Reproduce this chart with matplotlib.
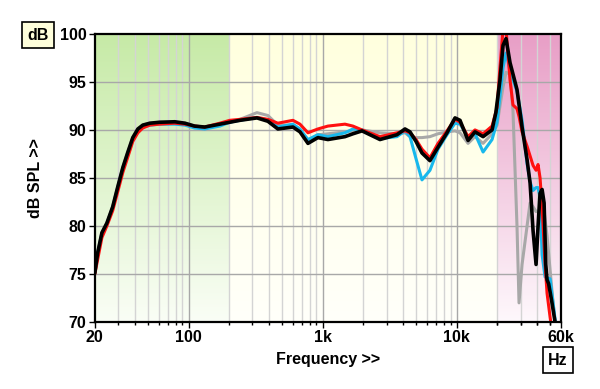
import numpy as np
import matplotlib.pyplot as plt
from matplotlib.ticker import FixedLocator, NullFormatter

plt.rcParams['font.family'] = ['Liberation Sans', 'DejaVu Sans']

# ===============================
# Data
# ===============================
freq_lo = [20, 21, 22.6, 24.6, 27.2, 29.7, 32.4, 35.3, 38.4, 41.9, 45.6, 51.5, 61, 79,
           94, 111, 132, 171, 203, 242, 324, 391, 464, 601, 678, 778, 922, 1096,
           1468, 1684, 1968, 2680, 3588, 4116, 4486, 4976, 5512, 6320, 7260, 8470,
           9720, 10590, 12160, 13700, 15740, 18360]

black_lo = [75.1, 77.2, 79.3, 80.3, 82.0, 84.1, 86.1, 87.7, 89.2, 90.1, 90.5, 90.7, 90.8, 90.85,
            90.7, 90.4, 90.3, 90.6, 90.8, 91.0, 91.25, 90.9, 90.1, 90.3, 89.8, 88.6, 89.2, 89.0,
            89.3, 89.6, 89.9, 89.0, 89.5, 90.1, 89.8, 88.8, 87.6, 86.8, 88.2, 89.7,
            91.25, 91.0, 88.9, 89.8, 89.3, 90.0]
red_lo = [75.0, 76.5, 78.8, 80.0, 81.6, 83.6, 85.6, 87.2, 88.8, 89.7, 90.2, 90.5, 90.6, 90.7,
          90.6, 90.4, 90.3, 90.7, 91.0, 91.1, 91.3, 91.1, 90.7, 91.0, 90.6, 89.7, 90.1, 90.4,
          90.6, 90.4, 90.0, 89.3, 89.7, 89.9, 89.7, 89.0, 88.0, 87.1, 88.6, 89.9,
          91.1, 90.8, 89.3, 90.0, 89.6, 90.4]
cyan_lo = [75.2, 77.1, 79.2, 80.2, 81.9, 84.0, 86.0, 87.5, 89.0, 89.9, 90.3, 90.5, 90.6, 90.6,
           90.5, 90.2, 90.1, 90.4, 90.8, 91.0, 91.3, 91.0, 90.3, 90.6, 90.1, 89.0, 89.5, 89.3,
           89.7, 90.1, 90.0, 89.1, 89.3, 89.9, 89.3, 87.0, 84.8, 85.8, 88.0, 89.5,
           90.7, 90.6, 89.3, 89.6, 87.7, 89.0]
gray_lo = [75.1, 77.2, 79.3, 80.3, 82.0, 84.1, 86.1, 87.7, 89.2, 90.0, 90.5, 90.7, 90.8, 90.8,
           90.7, 90.4, 90.3, 90.6, 90.8, 91.1, 91.8, 91.5, 90.5, 90.5, 90.0, 88.9, 89.5, 89.6,
           89.8, 89.9, 90.0, 89.7, 89.6, 89.7, 89.3, 89.2, 89.2, 89.3, 89.6, 89.8,
           89.9, 89.7, 88.6, 89.3, 88.6, 89.6]

# high-frequency tails, one per curve
black_hf_f = [19600, 21040, 22180, 23340, 25000, 28180, 30740, 33500, 35270, 37140, 39100,
              40460, 41880, 43360, 44880, 46200, 47220, 48500, 51000, 54200, 56000]
black_hf_db = [91.8, 95.2, 98.8, 99.5, 97.0, 94.2, 90.3, 86.9, 84.5, 79.5, 76.0,
               80.0, 83.4, 83.8, 82.4, 76.0, 74.4, 74.0, 72.3, 70.0, 68.5]

red_hf_f = [20000, 21040, 22180, 23340, 25000, 26300, 28180, 29180, 30740, 33500, 35270,
            37140, 39100, 40460, 41880, 43360, 45620, 47220, 49760, 51500]
red_hf_db = [92.3, 96.5, 100.5, 100.5, 95.2, 92.6, 92.2, 91.4, 89.8, 88.3, 87.3,
             86.3, 85.8, 86.4, 85.0, 82.0, 76.1, 73.0, 70.5, 69.0]

cyan_hf_f = [20000, 21040, 22180, 23340, 25000, 28180, 30740, 33500, 35270, 37140, 39100,
             40460, 41880, 43360, 45620, 49760, 52360, 55100]
cyan_hf_db = [90.8, 93.5, 96.5, 98.0, 96.2, 94.0, 91.0, 86.5, 84.6, 83.7, 84.0,
              84.0, 83.0, 77.0, 74.7, 74.5, 72.0, 69.5]

gray_hf_f = [20000, 21040, 22180, 23340, 25000, 26300, 28180, 29180, 30740, 33500, 35270,
             37140, 39100, 41880, 44880, 47220, 49760, 52360, 54200]
gray_hf_db = [90.5, 92.5, 94.5, 96.0, 95.8, 92.0, 80.0, 72.0, 76.0, 80.0, 82.4,
              82.0, 81.5, 81.6, 81.5, 79.0, 75.4, 72.0, 70.0]

x_ticks = [20, 100, 1000, 10000, 60000]
x_labels = ['20', '100', '1k', '10k', '60k']
y_ticks = [70, 75, 80, 85, 90, 95, 100]

# ===============================
# Figure
# ===============================
fig = plt.figure(figsize=(6, 3.89), dpi=100)
ax = fig.add_axes([0.158, 0.172, 0.777, 0.741])
ax.set_xscale('log')
ax.set_xlim(20, 60000)
ax.set_ylim(70, 100)

# background bands with vertical fade to white
span = np.log10(60000 / 20)
b1 = np.log10(200 / 20) / span
b2 = np.log10(20000 / 20) / span
nx, ny = 1200, 300
xs = np.linspace(0, 1, nx)
ys = np.linspace(0, 1, ny)[:, None]  # 0 bottom, 1 top
top = np.zeros((nx, 3))
bot = np.zeros((nx, 3))
green_t, green_b = np.array([198, 234, 166]), np.array([250, 254, 246])
yel_t, yel_b = np.array([255, 255, 222]), np.array([255, 255, 250])
pink_t, pink_b = np.array([232, 158, 198]), np.array([254, 248, 252])
top[xs < b1] = green_t
bot[xs < b1] = green_b
m = (xs >= b1) & (xs < b2)
top[m] = yel_t
bot[m] = yel_b
top[xs >= b2] = pink_t
bot[xs >= b2] = pink_b
img = (bot[None, :, :] + (top - bot)[None, :, :] * ys[:, :, None]) / 255.0
ax.imshow(img, extent=[0, 1, 0, 1], transform=ax.transAxes, aspect='auto',
          origin='lower', zorder=0, interpolation='bilinear')

# grid
minor = [m_ * 10 ** d for d in range(1, 5) for m_ in range(2, 10)]
minor = [v for v in minor if 20 < v < 60000 and v not in (100, 1000, 10000)]
for v in minor:
    ax.axvline(v, color='#d4d4d4', lw=1.0, zorder=1)
for v in (100, 1000, 10000):
    ax.axvline(v, color='#a8a8a8', lw=1.0, zorder=1)
for v in y_ticks[1:-1]:
    ax.axhline(v, color='#a8a8a8', lw=1.0, zorder=1)

# curves
kw = dict(solid_joinstyle='round', solid_capstyle='round')
ax.plot(freq_lo + gray_hf_f, gray_lo + gray_hf_db, color='#a8a8a8', lw=2.2, zorder=3, **kw)
ax.plot(freq_lo + cyan_hf_f, cyan_lo + cyan_hf_db, color='#18b8ec', lw=2.2, zorder=4, **kw)
ax.plot(freq_lo + red_hf_f, red_lo + red_hf_db, color='#ff1010', lw=2.2, zorder=5, **kw)
ax.plot(freq_lo + black_hf_f, black_lo + black_hf_db, color='black', lw=2.6, zorder=6, **kw)

# axes, ticks
for s in ax.spines.values():
    s.set_linewidth(1.6)
    s.set_zorder(10)
ax.xaxis.set_major_locator(FixedLocator(x_ticks))
ax.set_xticklabels(x_labels)
ax.xaxis.set_minor_locator(FixedLocator(minor + [20000, 30000, 40000, 50000]))
ax.xaxis.set_minor_formatter(NullFormatter())
ax.set_yticks(y_ticks)
ax.tick_params(axis='both', which='major', direction='out', length=4, width=1,
               labelsize=11.5, pad=2)
ax.tick_params(axis='x', which='minor', direction='out', length=2.5, width=1)
for lab in ax.get_xticklabels() + ax.get_yticklabels():
    lab.set_fontweight('bold')

ax.set_xlabel('Frequency >>', fontsize=11.5, fontweight='bold', labelpad=5)
ax.set_ylabel('dB SPL >>', fontsize=11.5, fontweight='bold', labelpad=12)

fig.text(0.063, 0.91, 'dB', fontsize=11.5, fontweight='bold', ha='center', va='center',
         bbox=dict(boxstyle='square,pad=0.35', fc='#ffffdc', ec='black', lw=1.2))
fig.text(0.93, 0.074, 'Hz', fontsize=11.5, fontweight='bold', ha='center', va='center',
         bbox=dict(boxstyle='square,pad=0.35', fc='white', ec='black', lw=1.2))

fig.savefig('out.png', dpi=100)
